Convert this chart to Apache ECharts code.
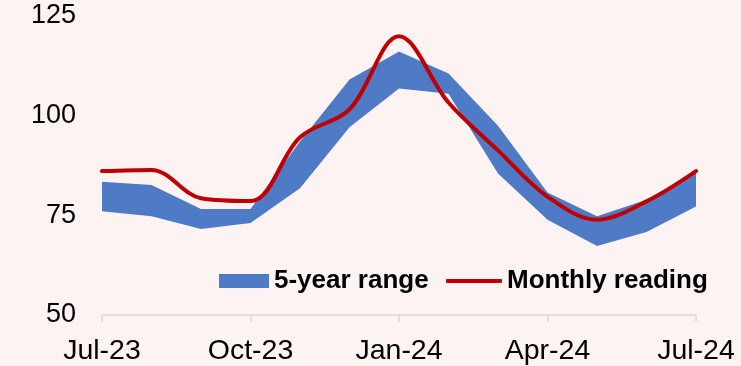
<!DOCTYPE html>
<html>
<head>
<meta charset="utf-8">
<script src="https://cdn.jsdelivr.net/npm/echarts@6/dist/echarts.min.js"></script>
<style>
  html, body { margin: 0; padding: 0; background: #FDF3F3; }
  #chart { width: 741px; height: 366px; }
</style>
</head>
<body>
<div id="chart"></div>
<script>
// Months shown on the horizontal axis
const months = ['Jul-23', 'Aug-23', 'Sep-23', 'Oct-23', 'Nov-23', 'Dec-23',
                'Jan-24', 'Feb-24', 'Mar-24', 'Apr-24', 'May-24', 'Jun-24', 'Jul-24'];

// 5-year range: lower and upper bounds for each month
const rangeLow  = [76.0, 74.8, 71.6, 73.1, 81.8, 97.1, 106.8, 105.5, 85.5, 73.9, 67.3, 70.8, 77.2];
const rangeHigh = [83.4, 82.6, 76.6, 76.6, 93.5, 109.1, 116.1, 110.6, 97.5, 80.7, 74.8, 78.9, 85.9];

// Monthly reading
const monthly = [86.1, 86.4, 79.3, 78.6, 94.6, 101.6, 119.9, 103.3, 91.3, 79.7, 73.9, 78.5, 86.1];

// Y-axis ticks
const yMin = 50, yMax = 125, yStep = 25;

const rangeSpan = rangeHigh.map((h, i) => +(h - rangeLow[i]).toFixed(2));

const font = 'Liberation Sans, Arial, sans-serif';
const legendText = { fontFamily: font, fontSize: 26, fontWeight: 'bold', color: '#000' };
const chart = echarts.init(document.getElementById('chart'));

chart.setOption({
  backgroundColor: '#FDF3F3',
  animation: false,
  grid: { left: 102, right: 45, top: 16, bottom: 48 },
  legend: [
    {
      left: 219, top: 268, padding: 0,
      itemWidth: 50, itemHeight: 14,
      textStyle: legendText,
      data: [{ name: '5-year range', icon: 'rect' }]
    },
    {
      left: 446, top: 268, padding: 0,
      itemWidth: 56, itemHeight: 4,
      textStyle: legendText,
      data: [{ name: 'Monthly reading', icon: 'roundRect', itemStyle: { color: '#C00000' } }]
    }
  ],
  xAxis: {
    type: 'category',
    data: months,
    boundaryGap: false,
    axisLine: { lineStyle: { color: '#D9D9D9', width: 1.5 } },
    axisTick: { interval: 2, length: 7, lineStyle: { color: '#D9D9D9', width: 1.5 } },
    axisLabel: { interval: 2, margin: 22, fontFamily: font, fontSize: 28.5, color: '#000' },
    splitLine: { show: false }
  },
  yAxis: {
    type: 'value',
    min: yMin, max: yMax, interval: yStep,
    axisLine: { show: false },
    axisTick: { show: false },
    splitLine: { show: false },
    axisLabel: { margin: 26, fontFamily: font, fontSize: 27, color: '#000' }
  },
  series: [
    {
      name: 'rangeBase',
      type: 'line',
      stack: 'range',
      data: rangeLow,
      symbol: 'none',
      lineStyle: { opacity: 0 },
      areaStyle: { opacity: 0 },
      silent: true
    },
    {
      name: '5-year range',
      type: 'line',
      stack: 'range',
      data: rangeSpan,
      symbol: 'none',
      itemStyle: { color: '#4F7BC6' },
      lineStyle: { opacity: 0, width: 0 },
      areaStyle: { color: '#4F7BC6', opacity: 1 }
    },
    {
      name: 'Monthly reading',
      type: 'line',
      data: monthly,
      smooth: 0.35,
      symbol: 'none',
      itemStyle: { color: '#C00000' },
      lineStyle: { color: '#C00000', width: 4, cap: 'round' },
      z: 5
    }
  ]
});
</script>
</body>
</html>
